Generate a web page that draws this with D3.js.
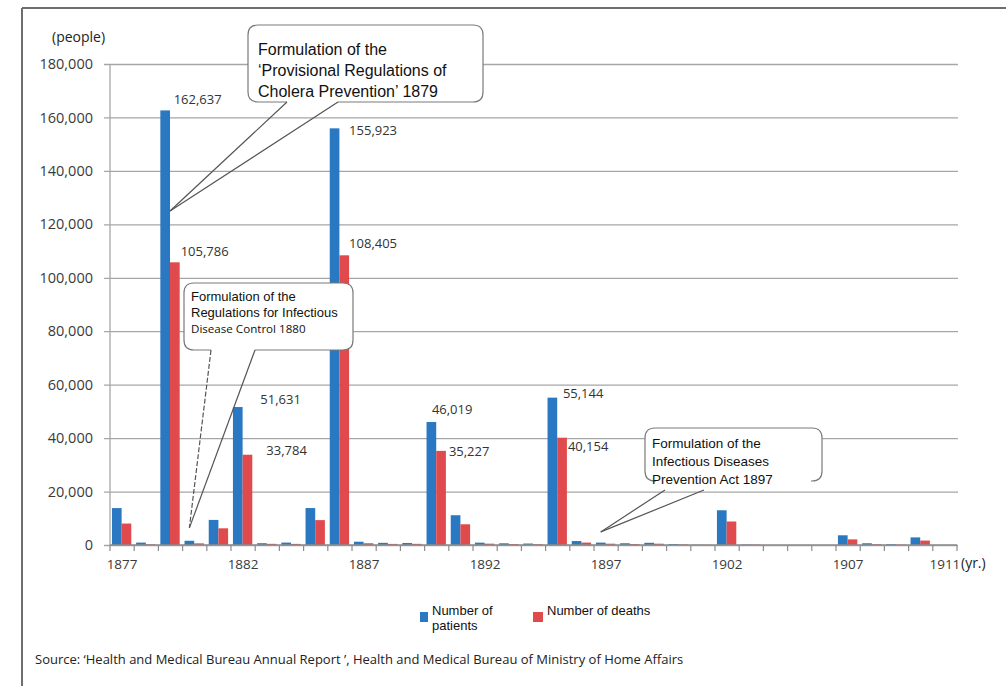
<!DOCTYPE html>
<html>
<head>
<meta charset="utf-8">
<script src="https://cdn.jsdelivr.net/npm/d3@7"></script>
<style>
  html, body { margin: 0; padding: 0; background: #fff; }
  svg { display: block; }
</style>
</head>
<body>
<svg id="chart" width="1006" height="686"></svg>
<script>
// Cholera patients and deaths in Japan, 1877-1911
const years = d3.range(1877, 1912);
const patients = [13816, 902, 162637, 1580, 9389, 51631, 669, 904, 13824, 155923,
  1228, 810, 751, 46019, 11142, 874, 633, 546, 55144, 1481,
  894, 655, 829, 377, 101, 13000, 172, 1, 0, 0,
  3632, 652, 328, 2849, 9];
const deaths = [8027, 275, 105786, 618, 6237, 33784, 434, 417, 9310, 108405,
  654, 410, 431, 35227, 7760, 497, 364, 314, 40154, 907,
  488, 374, 487, 231, 67, 8800, 139, 0, 0, 0,
  2100, 297, 158, 1656, 8];
const yTicks = [0, 20000, 40000, 60000, 80000, 100000, 120000, 140000, 160000, 180000];
const xTickYears = [1877, 1882, 1887, 1892, 1897, 1902, 1907, 1911];
const labelledYears = [1879, 1882, 1886, 1890, 1895];
const seriesNames = ["Number of patients", "Number of deaths"];

const colors = { patients: "#2b78c2", deaths: "#e04a4c" };

// hand-tuned offsets for the value labels (relative to the right edge of the bar pair / bar top)
const labelNudge = {
  patients: { 1879: [-6, -6], 1882: [8, -3], 1886: [0, 7], 1890: [-14, -8], 1895: [-4, 0] },
  deaths:   { 1879: [1, -6], 1882: [14, 0], 1886: [0, -7], 1890: [3, 5], 1895: [1, 13] }
};

const svg = d3.select("#chart");
const plot = { left: 110, right: 957, top: 64, bottom: 545 };

const x = d3.scaleBand().domain(years).range([plot.left, plot.right]).paddingInner(0).paddingOuter(0);
const bw = x.bandwidth();
const x1 = d3.scaleBand().domain(["patients", "deaths"]).range([bw * 0.08, bw * 0.88]);
const y = d3.scaleLinear().domain([0, 180000]).range([plot.bottom, plot.top]);
const fmt = d3.format(",");

// frame
svg.append("line").attr("x1", 22).attr("x2", 1006).attr("y1", 8).attr("y2", 8)
  .attr("stroke", "#6e6e6e").attr("stroke-width", 2);
svg.append("line").attr("x1", 22).attr("x2", 22).attr("y1", 8).attr("y2", 686)
  .attr("stroke", "#6e6e6e").attr("stroke-width", 2);

// gridlines + y axis
const yAxis = d3.axisLeft(y).tickValues(yTicks).tickFormat(fmt)
  .tickSize(-(plot.right - plot.left) - 1).tickPadding(12);
const gy = svg.append("g").attr("transform", `translate(${plot.left},0)`).call(yAxis);
gy.select(".domain").attr("stroke", "#8c8c8c").attr("d", `M0,${plot.top}V${plot.bottom}`);
gy.selectAll(".tick line").attr("stroke", "#a6a6a6").attr("stroke-width", 1.3)
  .attr("x1", -6);
gy.selectAll(".tick text").attr("font-family", "'Open Sans', sans-serif")
  .attr("font-size", 14.5).attr("fill", "#3a3a3a").attr("x", -17);

// bars
const groups = svg.append("g").selectAll("g").data(years).join("g")
  .attr("transform", d => `translate(${x(d)},0)`);
groups.append("rect")
  .attr("x", x1("patients")).attr("width", x1.bandwidth())
  .attr("y", (d, i) => y(patients[i])).attr("height", (d, i) => plot.bottom - y(patients[i]))
  .attr("fill", colors.patients);
groups.append("rect")
  .attr("x", x1("deaths")).attr("width", x1.bandwidth())
  .attr("y", (d, i) => y(deaths[i])).attr("height", (d, i) => plot.bottom - y(deaths[i]))
  .attr("fill", colors.deaths);

// x axis
const gx = svg.append("g").attr("transform", `translate(0,${plot.bottom})`);
gx.append("line").attr("x1", plot.left).attr("x2", plot.right).attr("y1", 0).attr("y2", 0)
  .attr("stroke", "#8c8c8c").attr("stroke-width", 1.3);
gx.selectAll("line.tk").data(years.concat([null])).join("line").attr("class", "tk")
  .attr("x1", d => d === null ? plot.right : x(d)).attr("x2", d => d === null ? plot.right : x(d))
  .attr("y1", 0).attr("y2", 6).attr("stroke", "#8c8c8c").attr("stroke-width", 1.2);
gx.selectAll("text").data(xTickYears).join("text")
  .attr("x", d => x(d) + bw / 2).attr("y", 24)
  .attr("text-anchor", "middle").attr("font-family", "'Open Sans', sans-serif")
  .attr("font-size", 13.5).attr("fill", "#3a3a3a").text(d => d);

// axis units
svg.append("text").attr("x", 52).attr("y", 42).attr("font-family", "'Open Sans', sans-serif")
  .attr("font-size", 14).attr("fill", "#222").text("(people)");
svg.append("text").attr("x", 961).attr("y", 568).attr("font-family", "'Open Sans', sans-serif")
  .attr("font-size", 14).attr("fill", "#222").text("(yr.)");

// value labels on the major epidemic years
labelledYears.forEach(yr => {
  const i = years.indexOf(yr);
  const right = x(yr) + x1("deaths") + x1.bandwidth();
  [["patients", patients[i]], ["deaths", deaths[i]]].forEach(([key, v]) => {
    const [dx, dy] = labelNudge[key][yr];
    svg.append("text")
      .attr("x", right + dx).attr("y", y(v) + dy)
      .attr("font-family", "'Open Sans', sans-serif").attr("font-size", 13)
      .attr("fill", "#333").text(fmt(v));
  });
});

// speech-bubble callouts
function bubble(box, gap, tip, base, lines, dashedLeft) {
  const g = svg.append("g");
  const r = 10, [x0, y0, x1b, y1b] = box;
  g.append("rect").attr("x", x0).attr("y", y0).attr("width", x1b - x0).attr("height", y1b - y0)
    .attr("rx", r).attr("fill", "#fff");
  const p = d3.path();
  p.moveTo(gap[0], y1b);
  p.lineTo(x0 + r, y1b);
  p.quadraticCurveTo(x0, y1b, x0, y1b - r);
  p.lineTo(x0, y0 + r);
  p.quadraticCurveTo(x0, y0, x0 + r, y0);
  p.lineTo(x1b - r, y0);
  p.quadraticCurveTo(x1b, y0, x1b, y0 + r);
  p.lineTo(x1b, y1b - r);
  p.quadraticCurveTo(x1b, y1b, x1b - r, y1b);
  p.lineTo(gap[1], y1b);
  g.append("path").attr("d", p.toString()).attr("fill", "none")
    .attr("stroke", "#7a7a7a").attr("stroke-width", 1.2);
  base.forEach((b, k) => {
    g.append("line").attr("x1", b[0]).attr("y1", b[1]).attr("x2", tip[0]).attr("y2", tip[1])
      .attr("stroke", "#555").attr("stroke-width", 1.2)
      .attr("stroke-dasharray", dashedLeft && k === 0 ? "5,2" : null);
  });
  lines.forEach(l => {
    g.append("text").attr("x", l.x).attr("y", l.y)
      .attr("font-family", l.font || "'Liberation Sans', Arial, sans-serif")
      .attr("font-size", l.size).attr("fill", "#111").text(l.t);
  });
}

const pBar = (yr) => x(yr) + x1("patients");

bubble([248, 25, 483, 102], [287, 338],
  [pBar(1879) + x1.bandwidth(), y(125000)],
  [[287, 102], [338, 102]],
  [
    { x: 258, y: 55, size: 16, t: "Formulation of the" },
    { x: 258, y: 76, size: 16, t: "\u2018Provisional Regulations of" },
    { x: 258, y: 97, size: 16, t: "Cholera Prevention\u2019 1879" }
  ], false);

bubble([184, 283, 353, 350], [211, 255],
  [pBar(1880) + x1.bandwidth() / 2, y(6400)],
  [[211, 350], [255, 350]],
  [
    { x: 191, y: 301, size: 13, t: "Formulation of the" },
    { x: 191, y: 317, size: 13, t: "Regulations for Infectious" },
    { x: 191, y: 333, size: 11.6, font: "'Open Sans', sans-serif", t: "Disease Control 1880" }
  ], true);

bubble([645, 428, 822, 481], [656, 811],
  [pBar(1897) + x1.bandwidth() / 2, y(4900)],
  [[665, 490], [704, 490]],
  [
    { x: 652, y: 448, size: 13.5, t: "Formulation of the" },
    { x: 652, y: 466, size: 13.5, t: "Infectious Diseases" },
    { x: 652, y: 484, size: 13.5, t: "Prevention Act 1897" }
  ], false);

// legend
const legend = svg.append("g").attr("font-family", "'Liberation Sans', Arial, sans-serif")
  .attr("font-size", 13).attr("fill", "#111");
legend.append("rect").attr("x", 420).attr("y", 612).attr("width", 8).attr("height", 10)
  .attr("fill", colors.patients);
legend.append("text").attr("x", 432).attr("y", 615).text("Number of");
legend.append("text").attr("x", 432).attr("y", 630).text("patients");
legend.append("rect").attr("x", 533).attr("y", 612).attr("width", 10).attr("height", 10)
  .attr("fill", colors.deaths);
legend.append("text").attr("x", 547).attr("y", 615).text(seriesNames[1]);

// source note
svg.append("text").attr("x", 35).attr("y", 664)
  .attr("font-family", "'Open Sans', sans-serif").attr("font-size", 13).attr("fill", "#222")
  .text("Source: \u2018Health and Medical Bureau Annual Report \u2019, Health and Medical Bureau of Ministry of Home Affairs");
</script>
</body>
</html>
